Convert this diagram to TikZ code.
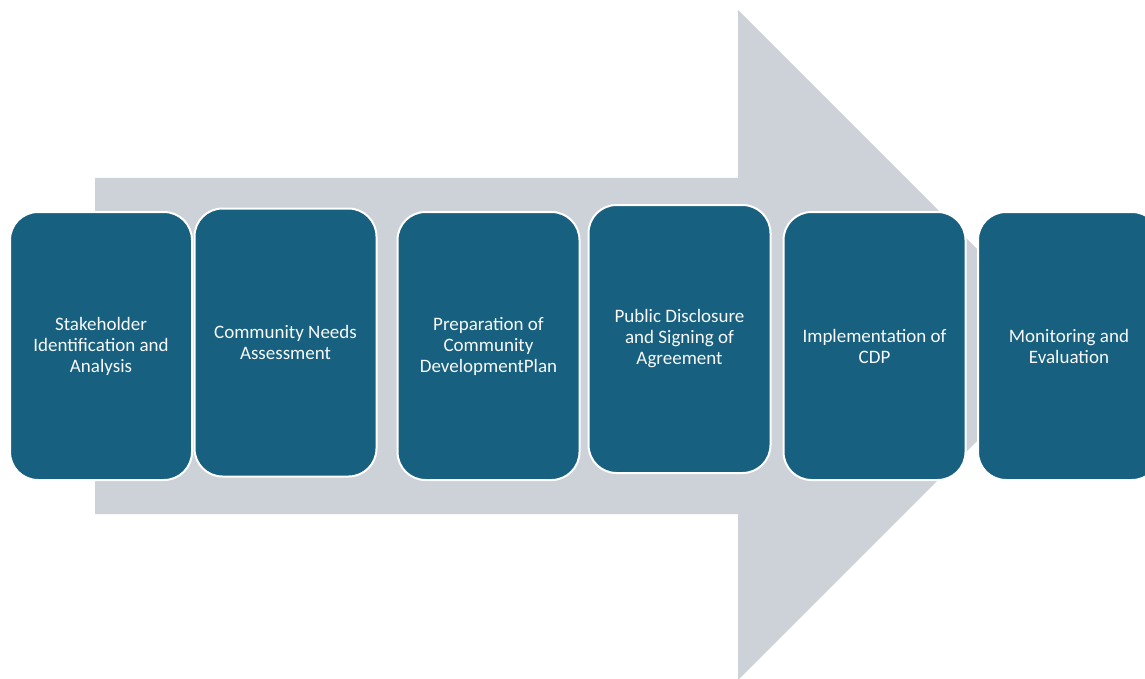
\documentclass[tikz,border=0pt]{standalone}
\usepackage{fontspec}
\setmainfont{Carlito}
\usetikzlibrary{positioning}

\definecolor{stageblue}{HTML}{17607F}
\definecolor{arrowgray}{HTML}{CDD1D8}

\begin{document}
\begin{tikzpicture}[x=1pt,y=-1pt]
  \tikzstyle{stage}=[
    draw=white, rectangle, rounded corners=28pt,
    fill=stageblue, text=white!95!gray,
    minimum width=182pt,
    minimum height=268pt,
    line width=2pt,
    align=center,
    font=\fontsize{19}{21}\selectfont
  ]

  \useasboundingbox (0,0) rectangle (1145,679);
  \clip (0,0) rectangle (1145,679);

  % big arrow behind the stages
  \fill[arrowgray] (95,178) -- (738,178) -- (738,10) -- (1073,345)
    -- (738,680) -- (738,514) -- (95,514) -- cycle;

  \node[stage] (stakeholder) at (101,346)   {Stakeholder\\Identification and\\Analysis};
  \node[stage] (needs)       at (285.5,342.5) {Community Needs\\Assessment};
  \node[stage] (plan)        at (488.5,346) {Preparation of\\Community\\DevelopmentPlan};
  \node[stage] (disclosure)  at (679.5,339) {Public Disclosure\\and Signing of\\Agreement};
  \node[stage] (cdp)         at (874.5,346) {Implementation of\\CDP};
  \node[stage] (monitoring)  at (1069,346)  {Monitoring and\\Evaluation};

\end{tikzpicture}
\end{document}
